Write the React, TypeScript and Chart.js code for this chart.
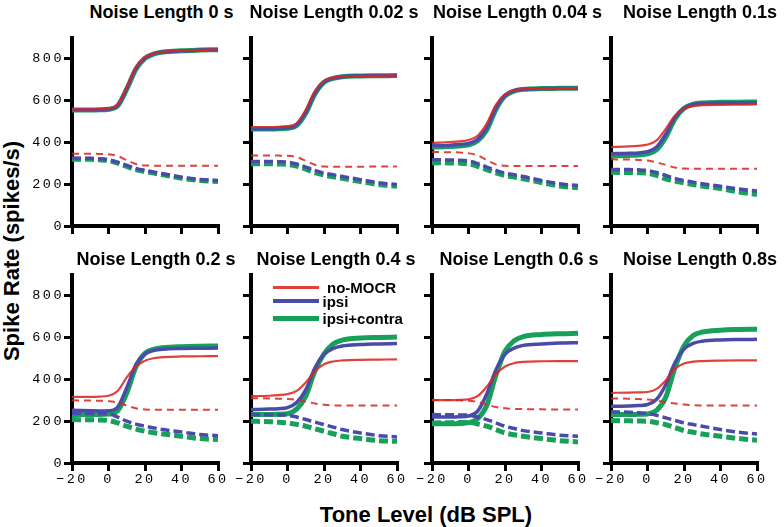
import React, { useEffect, useRef } from 'react';
import { Chart, registerables } from 'chart.js';
Chart.register(...registerables);

const toneLevels = [-20, -10, -5, 0, 5, 10, 15, 20, 25, 30, 40, 50, 60];
const xTicks = [-20, 0, 20, 40, 60];
const yTicks = [0, 200, 400, 600, 800];
const noiseLengths = ['0 s', '0.02 s', '0.04 s', '0.1s', '0.2 s', '0.4 s', '0.6 s', '0.8s'];
const seriesNames = ['no-MOCR', 'ipsi', 'ipsi+contra'];

// Noise Length 0 s
const noMocr0 = [558, 558, 559, 562, 580, 665, 760, 808, 826, 834, 840, 843, 845];
const ipsi0 = [556, 556, 557, 560, 577, 658, 754, 805, 825, 833, 839, 842, 844];
const contra0 = [555, 555, 556, 559, 575, 655, 750, 803, 824, 833, 839, 842, 844];
const noMocrDash0 = [346, 346, 345, 343, 335, 315, 297, 290, 289, 289, 289, 289, 289];
const ipsiDash0 = [325, 324, 322, 317, 305, 290, 276, 266, 258, 250, 234, 223, 218];
const contraDash0 = [320, 319, 317, 313, 301, 285, 270, 261, 253, 245, 229, 218, 213];
// Noise Length 0.02 s
const noMocr1 = [474, 474, 475, 478, 492, 555, 645, 695, 710, 716, 718, 719, 720];
const ipsi1 = [466, 466, 467, 470, 484, 545, 636, 690, 708, 715, 718, 719, 720];
const contra1 = [464, 464, 465, 468, 481, 540, 632, 688, 707, 715, 718, 719, 720];
const noMocrDash1 = [338, 338, 337, 336, 330, 312, 293, 285, 284, 284, 284, 285, 285];
const ipsiDash1 = [309, 309, 308, 306, 297, 282, 266, 253, 245, 237, 222, 207, 199];
const contraDash1 = [298, 298, 297, 295, 287, 272, 256, 244, 236, 228, 213, 198, 190];
// Noise Length 0.04 s
const noMocr2 = [398, 402, 405, 412, 432, 490, 580, 630, 650, 656, 659, 660, 660];
const ipsi2 = [385, 387, 390, 395, 415, 470, 565, 625, 648, 655, 658, 659, 660];
const contra2 = [378, 380, 383, 388, 408, 460, 558, 622, 646, 654, 658, 659, 660];
const noMocrDash2 = [354, 353, 352, 348, 338, 315, 295, 288, 287, 287, 287, 287, 287];
const ipsiDash2 = [317, 316, 315, 311, 299, 282, 266, 253, 245, 237, 218, 202, 194];
const contraDash2 = [303, 302, 301, 297, 286, 270, 254, 242, 234, 226, 208, 191, 183];
// Noise Length 0.1s
const noMocr3 = [378, 381, 384, 390, 410, 465, 528, 562, 574, 578, 580, 581, 582];
const ipsi3 = [346, 348, 350, 356, 378, 440, 520, 565, 582, 587, 589, 590, 590];
const contra3 = [336, 338, 340, 345, 365, 425, 512, 563, 583, 589, 592, 593, 594];
const noMocrDash3 = [319, 318, 316, 313, 305, 292, 280, 275, 274, 274, 274, 274, 274];
const ipsiDash3 = [271, 270, 269, 266, 256, 242, 228, 218, 210, 202, 190, 177, 167];
const contraDash3 = [257, 256, 255, 253, 242, 226, 215, 207, 199, 191, 179, 163, 151];
// Noise Length 0.2 s
const noMocr4 = [317, 317, 318, 322, 345, 410, 462, 490, 502, 507, 510, 511, 512];
const ipsi4 = [252, 250, 249, 250, 268, 360, 470, 522, 539, 545, 548, 549, 550];
const contra4 = [232, 232, 232, 234, 250, 335, 460, 525, 545, 552, 557, 559, 560];
const noMocrDash4 = [300, 299, 298, 296, 290, 275, 262, 256, 255, 255, 255, 255, 255];
const ipsiDash4 = [238, 237, 236, 235, 220, 200, 186, 176, 168, 160, 149, 136, 131];
const contraDash4 = [208, 207, 206, 203, 192, 176, 162, 152, 145, 139, 128, 117, 112];
// Noise Length 0.4 s
const noMocr5 = [320, 322, 325, 330, 345, 385, 440, 473, 486, 491, 494, 495, 496];
const ipsi5 = [256, 258, 260, 265, 290, 350, 455, 520, 548, 560, 567, 570, 572];
const contra5 = [232, 232, 233, 236, 258, 320, 440, 522, 570, 588, 598, 601, 603];
const noMocrDash5 = [310, 309, 308, 306, 302, 294, 285, 279, 276, 275, 275, 275, 275];
const ipsiDash5 = [232, 231, 230, 229, 220, 208, 196, 184, 172, 160, 144, 131, 125];
const contraDash5 = [200, 198, 195, 192, 185, 176, 164, 152, 140, 128, 117, 107, 104];
// Noise Length 0.6 s
const noMocr6 = [301, 301, 302, 305, 320, 365, 425, 462, 478, 484, 487, 488, 488];
const ipsi6 = [220, 220, 221, 225, 248, 330, 445, 520, 550, 563, 570, 574, 576];
const contra6 = [188, 188, 189, 193, 212, 275, 420, 535, 585, 605, 615, 619, 621];
const noMocrDash6 = [301, 301, 300, 298, 292, 280, 268, 262, 259, 258, 257, 256, 256];
const ipsiDash6 = [232, 231, 230, 229, 220, 208, 192, 176, 165, 155, 144, 133, 128];
const contraDash6 = [192, 193, 194, 195, 187, 176, 160, 144, 135, 128, 117, 107, 101];
// Noise Length 0.8s
const noMocr7 = [336, 337, 338, 340, 355, 395, 450, 476, 485, 488, 490, 491, 491];
const ipsi7 = [272, 273, 275, 280, 305, 375, 480, 545, 573, 583, 589, 591, 592];
const contra7 = [232, 232, 233, 235, 252, 315, 455, 560, 610, 627, 636, 639, 640];
const noMocrDash7 = [309, 308, 306, 304, 299, 291, 285, 280, 277, 275, 275, 275, 275];
const ipsiDash7 = [245, 243, 240, 237, 228, 216, 204, 192, 184, 176, 160, 147, 139];
const contraDash7 = [203, 202, 201, 200, 193, 184, 170, 155, 147, 139, 128, 117, 109];

const panels = [
  [noMocr0, ipsi0, contra0, noMocrDash0, ipsiDash0, contraDash0],
  [noMocr1, ipsi1, contra1, noMocrDash1, ipsiDash1, contraDash1],
  [noMocr2, ipsi2, contra2, noMocrDash2, ipsiDash2, contraDash2],
  [noMocr3, ipsi3, contra3, noMocrDash3, ipsiDash3, contraDash3],
  [noMocr4, ipsi4, contra4, noMocrDash4, ipsiDash4, contraDash4],
  [noMocr5, ipsi5, contra5, noMocrDash5, ipsiDash5, contraDash5],
  [noMocr6, ipsi6, contra6, noMocrDash6, ipsiDash6, contraDash6],
  [noMocr7, ipsi7, contra7, noMocrDash7, ipsiDash7, contraDash7],
];

const RED = 'rgba(218,40,32,0.88)';
const BLUE = '#4a4aaa';
const GREEN = '#17a05a';
const AXIS = '#000000';

const axisX = [72, 251, 432, 611];
const rowTop = [38, 275];
const PAD_L = 45;
const PLOT_W = 146;
const PLOT_H = 188;
const PAD_T = 10;
const PAD_R = 20;
const X_H = 32;

const titleCenters = [161.5, 334, 517.5, 700, 156, 336, 519, 700];
const titleTops = [2.5, 250];

const spacingPlugin = {
  id: 'tickSpacing',
  beforeDraw(chart: any) {
    try { chart.ctx.letterSpacing = '2.5px'; } catch (e) {}
  },
};

const fmt = (v: number) => (v < 0 ? '\u2212' + Math.abs(v) : String(v));

function Panel({ idx }: { idx: number }) {
  const ref = useRef<HTMLCanvasElement>(null);
  const row = idx < 4 ? 0 : 1;
  const col = idx % 4;
  const showX = row === 1;
  const showY = col === 0;
  useEffect(() => {
    const [nm, ip, ct, nmD, ipD, ctD] = panels[idx];
    const mk = (vals: number[]) => toneLevels.map((x, i) => ({ x, y: vals[i] }));
    const tickFont = { family: "'Liberation Mono', 'Courier New', monospace", size: 13.5 };
    const gridOpts = {
      display: true,
      drawOnChartArea: false,
      drawTicks: true,
      tickLength: 8,
      lineWidth: 3,
      color: AXIS,
    };
    const borderOpts = { display: true, width: 4, color: AXIS };
    const chart = new Chart(ref.current as HTMLCanvasElement, {
      type: 'line',
      data: {
        datasets: [
          { label: seriesNames[0], data: mk(nm), borderColor: RED, borderWidth: 2.2 },
          { label: seriesNames[0] + ' dashed', data: mk(nmD), borderColor: RED, borderWidth: 2, borderDash: [7, 5] },
          { label: seriesNames[1], data: mk(ip), borderColor: BLUE, borderWidth: 3.5 },
          { label: seriesNames[1] + ' dashed', data: mk(ipD), borderColor: BLUE, borderWidth: 3.5, borderDash: [9, 4] },
          { label: seriesNames[2], data: mk(ct), borderColor: GREEN, borderWidth: 5 },
          { label: seriesNames[2] + ' dashed', data: mk(ctD), borderColor: GREEN, borderWidth: 5, borderDash: [9, 4] },
        ],
      },
      options: {
        animation: false,
        responsive: false,
        events: [],
        layout: { padding: { top: PAD_T, right: PAD_R, left: 0, bottom: 0 } },
        plugins: { legend: { display: false }, tooltip: { enabled: false } },
        elements: {
          point: { radius: 0 },
          line: { cubicInterpolationMode: 'monotone', fill: false, borderCapStyle: 'butt' },
        },
        scales: {
          x: {
            type: 'linear',
            min: -20,
            max: 60,
            afterBuildTicks: (s: any) => { s.ticks = xTicks.map((v) => ({ value: v })); },
            afterFit: (s: any) => { s.height = X_H; },
            grid: gridOpts,
            border: borderOpts,
            ticks: {
              display: showX,
              font: tickFont,
              color: AXIS,
              padding: 0,
              maxRotation: 0,
              autoSkip: false,
              callback: (v: any) => fmt(Number(v)),
            },
          },
          y: {
            type: 'linear',
            min: 0,
            max: 900,
            afterBuildTicks: (s: any) => { s.ticks = yTicks.map((v) => ({ value: v })); },
            afterFit: (s: any) => { s.width = PAD_L; },
            grid: gridOpts,
            border: borderOpts,
            ticks: {
              display: showY,
              font: tickFont,
              color: AXIS,
              padding: 0,
              callback: (v: any) => fmt(Number(v)),
            },
          },
        },
      } as any,
      plugins: [spacingPlugin],
    });
    return () => chart.destroy();
  }, [idx]);
  return (
    <canvas
      ref={ref}
      width={PAD_L + PLOT_W + PAD_R}
      height={PAD_T + PLOT_H + X_H}
      style={{ position: 'absolute', left: axisX[col] - PAD_L, top: rowTop[row] - PAD_T }}
    />
  );
}

const sans = "'Liberation Sans', Arial, Helvetica, sans-serif";

export default function App() {
  const legendRows = [
    { name: seriesNames[0], color: RED, w: 3, y: 287, tx: 327 },
    { name: seriesNames[1], color: BLUE, w: 4, y: 301, tx: 322.5 },
    { name: seriesNames[2], color: GREEN, w: 5, y: 318, tx: 322.5 },
  ];
  return (
    <div style={{ position: 'absolute', left: 0, top: 0, width: 784, height: 527, background: '#fff', overflow: 'hidden', fontFamily: sans }}>
      {panels.map((_, i) => (
        <Panel key={i} idx={i} />
      ))}
      {noiseLengths.map((n, i) => (
        <div
          key={'t' + i}
          style={{
            position: 'absolute',
            left: titleCenters[i],
            top: titleTops[i < 4 ? 0 : 1],
            transform: 'translateX(-50%)',
            whiteSpace: 'nowrap',
            fontWeight: 'bold',
            fontSize: 18,
            lineHeight: '18px',
            color: '#000',
          }}
        >
          {'Noise Length ' + n}
        </div>
      ))}
      {legendRows.map((r, i) => (
        <React.Fragment key={'l' + i}>
          <div style={{ position: 'absolute', left: 272.5, top: r.y - r.w / 2, width: 46, height: r.w, background: r.color }} />
          <div
            style={{
              position: 'absolute',
              left: r.tx,
              top: r.y - 7.5,
              whiteSpace: 'nowrap',
              fontWeight: 'bold',
              fontSize: 15,
              lineHeight: '15px',
              color: '#000',
            }}
          >
            {r.name}
          </div>
        </React.Fragment>
      ))}
      <div
        style={{
          position: 'absolute',
          left: 11.5,
          top: 251,
          transform: 'translate(-50%, -50%) rotate(-90deg)',
          whiteSpace: 'nowrap',
          fontWeight: 'bold',
          fontSize: 22,
          lineHeight: '22px',
          color: '#000',
        }}
      >
        Spike Rate (spikes/s)
      </div>
      <div
        style={{
          position: 'absolute',
          left: 426,
          top: 504,
          transform: 'translateX(-50%)',
          whiteSpace: 'nowrap',
          fontWeight: 'bold',
          fontSize: 22,
          lineHeight: '22px',
          color: '#000',
        }}
      >
        Tone Level (dB SPL)
      </div>
    </div>
  );
}
